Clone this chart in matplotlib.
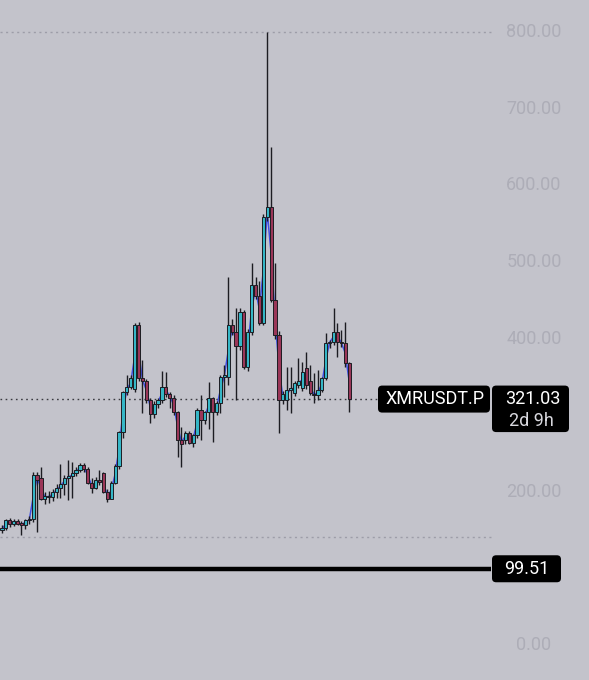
import matplotlib
matplotlib.use("Agg")
import matplotlib.pyplot as plt
import matplotlib.transforms as mtransforms
from matplotlib.patches import FancyBboxPatch
import numpy as np

# OHLC, left to right
opens = [150, 153, 163, 158, 162, 158, 157, 163, 164, 222,
         218, 191, 195, 193, 200, 205, 210, 218, 220, 224,
         228, 235, 230, 212, 205, 215, 224, 200, 191, 212,
         234, 278, 330, 337, 334, 418, 349, 345, 320, 302,
         314, 320, 337, 328, 323, 304, 268, 268, 277, 264,
         274, 307, 294, 304, 322, 304, 316, 350, 350, 418,
         408, 390, 435, 363, 409, 470, 456, 420, 559, 572,
         450, 405, 320, 320, 333, 329, 340, 336, 362, 345,
         328, 326, 333, 349, 394, 396, 409, 396, 394, 368]
highs = [156, 164, 166, 164, 164, 162, 164, 168, 226, 226,
         232, 200, 201, 204, 210, 236, 222, 241, 239, 232,
         237, 237, 232, 218, 219, 228, 226, 203, 214, 236,
         280, 332, 352, 352, 420, 421, 372, 347, 322, 318,
         322, 358, 357, 330, 326, 306, 285, 280, 279, 276,
         310, 326, 306, 343, 324, 318, 352, 365, 480, 425,
         440, 440, 437, 412, 499, 480, 475, 562, 800, 650,
         499, 410, 332, 363, 363, 345, 375, 370, 382, 365,
         355, 359, 350, 407, 398, 440, 420, 411, 421, 370]
lows = [146, 150, 154, 155, 156, 143, 152, 158, 160, 148,
        189, 184, 186, 188, 192, 192, 196, 189, 192, 220,
        226, 226, 210, 198, 203, 209, 198, 187, 190, 210,
        230, 270, 326, 334, 330, 345, 303, 316, 290, 296,
        310, 316, 324, 310, 300, 245, 232, 262, 262, 258,
        270, 268, 288, 282, 265, 300, 303, 324, 340, 405,
        320, 385, 360, 358, 405, 452, 418, 418, 553, 448,
        400, 277, 315, 307, 303, 325, 336, 332, 334, 326,
        316, 320, 330, 346, 388, 392, 376, 389, 363, 304]
closes = [153, 163, 158, 162, 158, 157, 163, 164, 222, 216,
          191, 195, 193, 200, 205, 210, 218, 220, 224, 228,
          235, 230, 212, 205, 215, 213, 200, 190, 212, 234,
          278, 330, 337, 348, 418, 349, 345, 320, 302, 314,
          320, 337, 328, 323, 304, 268, 262, 277, 264, 274,
          307, 294, 304, 322, 304, 316, 350, 352, 418, 408,
          390, 435, 363, 409, 470, 456, 420, 559, 572, 450,
          405, 320, 328, 333, 335, 342, 345, 356, 340, 329,
          326, 333, 349, 394, 396, 409, 396, 394, 368, 321.03]

last_price = 321.03
ticker = "XMRUSDT.P"
countdown = "2d 9h"
level = 99.51
range_high = 800
range_low = 141
# 300 and 100 sit behind the price boxes, so they are not shown
price_ticks = [0, 200, 400, 500, 600, 700, 800]

bg = "#c3c3cb"
up_col = "#35b6c6"
down_col = "#9a3658"

plt.rcParams['font.family'] = ['Roboto', 'DejaVu Sans']

fig = plt.figure(figsize=(5.89, 6.80), dpi=100)
fig.patch.set_facecolor(bg)
ax = fig.add_axes([0, 0, 1, 1])
ax.set_facecolor(bg)

o = np.array(opens, float)
h = np.array(highs, float)
l = np.array(lows, float)
c = np.array(closes, float)
x = np.arange(len(o))

ax.set_xlim(-0.51, 150.5)
ax.set_ylim(-45.7, 842)
ax.axis('off')

# thin blue line through the candles
ax.plot(x, (o + c) / 2, color="#3f4fe0", lw=1.1, zorder=2)

ax.vlines(x, l, h, color="#1c1c22", lw=1.0, zorder=3)
up = c >= o
colors = np.where(up, up_col, down_col)
bottoms = np.minimum(o, c)
heights = np.maximum(np.abs(c - o), 2)
ax.bar(x, heights, bottom=bottoms, width=0.82, color=colors,
       edgecolor="#1c1c22", linewidth=0.7, zorder=4)

bt = mtransforms.blended_transform_factory(ax.transAxes, ax.transData)
plot_right = 491 / 589

# dotted range lines
ax.plot([0, plot_right], [range_high, range_high], transform=bt,
        color="#9d9da8", lw=1, ls=(0, (1.5, 2.5)), zorder=1)
ax.plot([0, plot_right], [range_low, range_low], transform=bt,
        color="#9d9da8", lw=1, ls=(0, (1.5, 2.5)), zorder=1)
ax.plot([0, 378 / 589], [last_price, last_price], transform=bt,
        color="#3a3a40", lw=1, ls=(0, (1.2, 2.5)), zorder=1)

# thick horizontal level
ax.plot([0, plot_right], [level, level], transform=bt,
        color="black", lw=3.2, zorder=5, solid_capstyle='butt')

# price scale
for p in price_ticks:
    ax.text(534 / 589, p, f"{p:.2f}", transform=bt, ha='center', va='center',
            fontsize=13, color="#adadb7", zorder=1)

ppx = 0.766  # pixels per price unit
ma = 589 / ppx


def box(x0, x1, ytop, ybot):
    patch = FancyBboxPatch((x0 / 589, ybot), (x1 - x0) / 589, ytop - ybot,
                           boxstyle="round,pad=0,rounding_size=0.007",
                           mutation_aspect=ma, transform=bt,
                           fc="black", ec="none", zorder=10)
    ax.add_patch(patch)


# ticker + last price labels
box(378, 490, last_price + 13.5 / ppx, last_price - 13.5 / ppx)
ax.text(435 / 589, last_price, ticker, transform=bt, ha='center', va='center',
        fontsize=13, color="white", zorder=11)
box(492, 569, last_price + 13.5 / ppx, last_price - 33 / ppx)
ax.text(533 / 589, last_price, f"{last_price:.2f}", transform=bt, ha='center',
        va='center', fontsize=13, color="white", zorder=11)
ax.text(531 / 589, last_price - 22 / ppx, countdown, transform=bt, ha='center',
        va='center', fontsize=13, color="#d8d8de", zorder=11)

# level label
box(492, 561, level + 13.5 / ppx, level - 13.5 / ppx)
ax.text(527 / 589, level, f"{level:.2f}", transform=bt, ha='center',
        va='center', fontsize=13, color="white", zorder=11)

fig.savefig("out.png", dpi=100, facecolor=bg)
